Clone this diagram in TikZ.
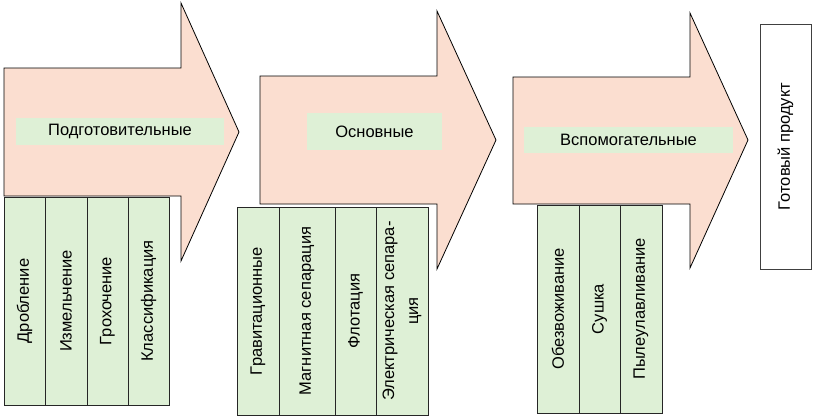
\documentclass[tikz,border=0pt]{standalone}
\usepackage{fontspec}
\setmainfont{Liberation Sans}
\definecolor{pinkc}{RGB}{251,222,208}
\definecolor{greenc}{RGB}{222,240,214}
\tikzset{
  bigarrow/.style={fill=pinkc, draw=black, line width=0.8pt, line join=miter},
  stagelabel/.style={fill=greenc, inner sep=0pt, font=\fontsize{16.5}{19}\selectfont},
  cell/.style={draw=black!85, fill=greenc, line width=0.9pt, rotate=90, inner sep=0pt,
    align=center, font=\fontsize{16.5}{24}\selectfont},
  productbox/.style={draw=black!75, fill=white, line width=0.9pt, rotate=90, inner sep=0pt,
    font=\fontsize{16.5}{19}\selectfont}
}
\begin{document}
\begin{tikzpicture}[x=1pt,y=-1pt]
\useasboundingbox (0,0) rectangle (815,416);
% arrows
\draw[bigarrow] (4,68) -- (181,68) -- (181,3) -- (239,132) -- (181,261) -- (181,196) -- (4,196) -- cycle;
\draw[bigarrow] (260,76) -- (437,76) -- (437,11) -- (496,140) -- (437,269) -- (437,204) -- (260,204) -- cycle;
\draw[bigarrow] (513,77) -- (690,77) -- (690,13) -- (748,140) -- (690,268) -- (690,204) -- (513,204) -- cycle;
% stage labels
\node[stagelabel, minimum width=208, minimum height=27] (s1) at (120,131.5) {Подготовительные};
\node[stagelabel, minimum width=135, minimum height=37] (s2) at (374.5,131.5) {Основные};
\node[stagelabel, minimum width=209, minimum height=26.5] (s3) at (628.5,140) {Вспомогательные};
% cells of stage 1
\node[cell, minimum width=208, minimum height=41] (c11) at (24.5,301) {Дробление};
\node[cell, minimum width=208, minimum height=42] (c12) at (66,301) {Измельчение};
\node[cell, minimum width=208, minimum height=41] (c13) at (107.5,301) {Грохочение};
\node[cell, minimum width=208, minimum height=41] (c14) at (148.5,301) {Классификация};
% cells of stage 2
\node[cell, minimum width=208, minimum height=42] (c21) at (258,311) {Гравитационные};
\node[cell, minimum width=208, minimum height=56] (c22) at (307,311) {Магнитная сепарация};
\node[cell, minimum width=208, minimum height=41] (c23) at (355.5,311) {Флотация};
\node[cell, minimum width=208, minimum height=52] (c24) at (402,311) {Электрическая сепара-\\ция};
% cells of stage 3
\node[cell, minimum width=208, minimum height=42] (c31) at (558,309) {Обезвоживание};
\node[cell, minimum width=208, minimum height=41] (c32) at (599.5,309) {Сушка};
\node[cell, minimum width=208, minimum height=42] (c33) at (641,309) {Пылеулавливание};
% product
\node[productbox, minimum width=245, minimum height=51] (p) at (785.5,146.5) {Готовый продукт};
\end{tikzpicture}
\end{document}
